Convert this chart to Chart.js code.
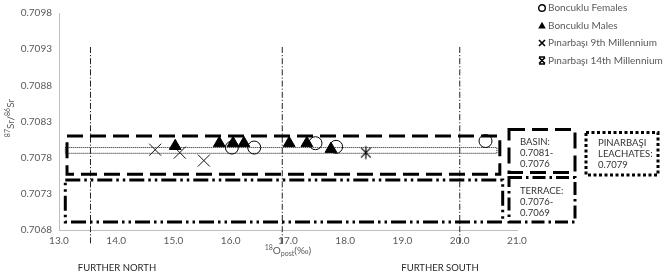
<!DOCTYPE html>
<html>
<head>
<meta charset="utf-8">
<script src="https://cdn.jsdelivr.net/npm/chart.js@4.4.1/dist/chart.umd.min.js"></script>
<style>
html,body{margin:0;padding:0;background:#fff;}
#wrap{position:relative;width:668px;height:275px;}
</style>
</head>
<body>
<div id="wrap"><canvas id="c" width="668" height="275"></canvas></div>
<script>
// ---- data ----
const xTicks = [13, 14, 15, 16, 17, 18, 19, 20, 21];
const yTicks = [0.7068, 0.7073, 0.7078, 0.7083, 0.7088, 0.7093, 0.7098];

const femalesX = [16.02, 16.41, 17.48, 17.84, 20.45];
const femalesY = [0.70794, 0.70794, 0.70800, 0.70795, 0.70803];

const malesX = [15.03, 15.80, 16.04, 16.23, 17.02, 17.33, 17.75];
const malesY = [0.70796, 0.70800, 0.70800, 0.70800, 0.70800, 0.70800, 0.70792];

const pin9X = [14.68, 15.11, 15.53];
const pin9Y = [0.70791, 0.70787, 0.70776];

const pin14X = [18.36];
const pin14Y = [0.70787];

const basinX = [13.14, 20.70, 20.70, 13.14, 13.14];
const basinY = [0.70810, 0.70810, 0.70757, 0.70757, 0.70810];

const terraceX = [13.11, 20.75, 20.75, 13.11, 13.11];
const terraceY = [0.70749, 0.70749, 0.70691, 0.70691, 0.70749];

const leachX = [13.11, 20.65, 20.65, 13.11, 13.11];
const leachY = [0.70794, 0.70794, 0.70786, 0.70786, 0.70794];

const vlineX = [13.55, 16.90, 20.00];
const vlineRange = [0.70933, 0.70660];

const legendLabels = ['Boncuklu Females', 'Boncuklu Males', 'Pınarbaşı 9th Millennium', 'Pınarbaşı 14th Millennium'];

// ---- helpers ----
const pts = (xs, ys) => xs.map((x, i) => ({x: x, y: ys[i]}));
const FONT = 'Lato, "Open Sans", sans-serif';

function starImg(size, lw) {
  const c = document.createElement('canvas');
  c.width = size; c.height = size;
  const g = c.getContext('2d');
  const h = size / 2, r = size / 2 - 1.5;
  g.strokeStyle = '#000'; g.lineWidth = lw;
  g.beginPath();
  g.moveTo(h - r * 0.75, h - r * 0.75); g.lineTo(h + r * 0.75, h + r * 0.75);
  g.moveTo(h + r * 0.75, h - r * 0.75); g.lineTo(h - r * 0.75, h + r * 0.75);
  g.moveTo(h, h - r); g.lineTo(h, h + r);
  g.stroke();
  return c;
}
const star14 = starImg(16, 1.2);

const datasets = [
  {label: legendLabels[0], data: pts(femalesX, femalesY), pointStyle: 'circle', pointRadius: 6.5,
   borderColor: '#000', backgroundColor: 'rgba(0,0,0,0)', borderWidth: 1, showLine: false},
  {label: legendLabels[1], data: pts(malesX, malesY), pointStyle: 'triangle', pointRadius: 6.8,
   borderColor: '#000', backgroundColor: '#000', borderWidth: 1, showLine: false},
  {label: legendLabels[2], data: pts(pin9X, pin9Y), pointStyle: 'crossRot', pointRadius: 8.5,
   borderColor: '#111', backgroundColor: '#111', borderWidth: 1, showLine: false},
  {label: legendLabels[3], data: pts(pin14X, pin14Y), pointStyle: star14, pointRadius: 8,
   borderColor: '#000', borderWidth: 1, showLine: false},
  {label: 'leach', data: pts(leachX, leachY), showLine: true, pointRadius: 0, borderColor: '#111',
   borderWidth: 1, borderDash: [1, 1], fill: false, tension: 0},
  {label: 'basin', data: pts(basinX, basinY), showLine: true, pointRadius: 0, borderColor: '#000',
   borderWidth: 3, borderDash: [16, 7], fill: false, tension: 0},
  {label: 'terrace', data: pts(terraceX, terraceY), showLine: true, pointRadius: 0, borderColor: '#000',
   borderWidth: 3, borderDash: [15, 4, 2.5, 4, 2.5, 4], fill: false, tension: 0}
];
vlineX.forEach((vx, i) => {
  datasets.push({label: 'v' + i, data: [{x: vx, y: vlineRange[0]}, {x: vx, y: vlineRange[1]}],
    showLine: true, pointRadius: 0, borderColor: '#222', borderWidth: 1,
    borderDash: [6, 2, 1.2, 2], clip: false, fill: false});
});

// ---- overlay plugin: legend, titles, text boxes ----
function drawSupText(ctx, parts, x, y, align) {
  let w = 0;
  parts.forEach(p => { ctx.font = p.size + 'px ' + FONT; p.w = ctx.measureText(p.t).width; w += p.w; });
  let cx = align === 'center' ? x - w / 2 : x;
  parts.forEach(p => {
    ctx.font = p.size + 'px ' + FONT;
    ctx.textAlign = 'left';
    ctx.fillText(p.t, cx, y + (p.dy || 0));
    cx += p.w;
  });
}

const overlay = {
  id: 'overlay',
  afterDraw(chart) {
    const ctx = chart.ctx;
    ctx.save();
    // legend
    const lx = 542, ly = [8, 25.5, 43, 60.5];
    ctx.strokeStyle = '#000'; ctx.fillStyle = '#000';
    ctx.lineWidth = 1.4; ctx.beginPath(); ctx.arc(lx, ly[0], 3.3, 0, Math.PI * 2); ctx.stroke();
    ctx.beginPath(); ctx.moveTo(lx, ly[1] - 3.8); ctx.lineTo(lx + 3.8, ly[1] + 3); ctx.lineTo(lx - 3.8, ly[1] + 3); ctx.closePath(); ctx.fill();
    ctx.lineWidth = 1.6; ctx.beginPath();
    ctx.moveTo(lx - 3, ly[2] - 3); ctx.lineTo(lx + 3, ly[2] + 3); ctx.moveTo(lx + 3, ly[2] - 3); ctx.lineTo(lx - 3, ly[2] + 3); ctx.stroke();
    ctx.beginPath();
    ctx.moveTo(lx - 3, ly[3] - 3); ctx.lineTo(lx + 3, ly[3] + 3); ctx.moveTo(lx + 3, ly[3] - 3); ctx.lineTo(lx - 3, ly[3] + 3);
    ctx.moveTo(lx - 3, ly[3] - 3.5); ctx.lineTo(lx + 3, ly[3] - 3.5); ctx.moveTo(lx - 3, ly[3] + 3.5); ctx.lineTo(lx + 3, ly[3] + 3.5);
    ctx.stroke();
    ctx.fillStyle = '#595959'; ctx.font = '10px ' + FONT; ctx.textAlign = 'left'; ctx.textBaseline = 'middle';
    legendLabels.forEach((t, i) => ctx.fillText(t, lx + 6, ly[i]));

    // y title
    ctx.save();
    ctx.translate(11, 118); ctx.rotate(-Math.PI / 2);
    ctx.fillStyle = '#595959'; ctx.textBaseline = 'middle';
    drawSupText(ctx, [{t: '87', size: 7, dy: -3}, {t: 'Sr/', size: 10}, {t: '86', size: 7, dy: -3}, {t: 'Sr', size: 10}], 0, 0, 'center');
    ctx.restore();

    // x title
    ctx.fillStyle = '#595959'; ctx.textBaseline = 'middle';
    drawSupText(ctx, [{t: '18', size: 7, dy: -3}, {t: 'O', size: 10}, {t: 'post', size: 7, dy: 3}, {t: '(‰)', size: 10}], 288, 251, 'center');

    // further north / south
    ctx.fillStyle = '#262626'; ctx.font = '9.5px ' + FONT; ctx.textAlign = 'center'; ctx.textBaseline = 'middle';
    ctx.fillText('FURTHER NORTH', 117, 268);
    ctx.fillText('FURTHER SOUTH', 440, 268);

    // text boxes
    ctx.strokeStyle = '#000'; ctx.lineWidth = 3;
    ctx.setLineDash([16, 7]); ctx.strokeRect(509, 129.5, 66, 43);
    ctx.setLineDash([13, 4, 2.5, 4]); ctx.strokeRect(509, 177.5, 66, 44.5);
    ctx.setLineDash([3, 2.5]); ctx.strokeRect(586, 132.5, 72, 42.5);
    ctx.setLineDash([]);
    ctx.fillStyle = '#333'; ctx.font = '9.5px ' + FONT; ctx.textAlign = 'left'; ctx.textBaseline = 'middle';
    ['BASIN:', '0.7081-', '0.7076'].forEach((t, i) => ctx.fillText(t, 520, 142 + i * 11));
    ['TERRACE:', '0.7076-', '0.7069'].forEach((t, i) => ctx.fillText(t, 520, 191 + i * 11));
    ['PINARBAŞI', 'LEACHATES:', '0.7079'].forEach((t, i) => ctx.fillText(t, 598, 143 + i * 11));
    ctx.restore();
  }
};

new Chart(document.getElementById('c'), {
  type: 'scatter',
  data: {datasets: datasets},
  options: {
    responsive: false,
    animation: false,
    events: [],
    layout: {padding: {left: 0, right: 151, top: 5, bottom: 0}},
    plugins: {legend: {display: false}, tooltip: {enabled: false}},
    scales: {
      x: {
        type: 'linear', min: 13, max: 21,
        afterBuildTicks: s => { s.ticks = xTicks.map(v => ({value: v})); },
        afterFit: s => { s.height = 45; },
        grid: {display: false, drawTicks: false},
        border: {display: true, color: '#bfbfbf', width: 1},
        ticks: {color: '#595959', font: {family: FONT, size: 10}, padding: 5,
                callback: v => Number(v).toFixed(1), maxRotation: 0, autoSkip: false}
      },
      y: {
        type: 'linear', min: 0.7068, max: 0.7098,
        afterBuildTicks: s => { s.ticks = yTicks.map(v => ({value: v})); },
        afterFit: s => { s.width = 59; },
        grid: {display: false, drawTicks: false},
        border: {display: true, color: '#bfbfbf', width: 1},
        ticks: {color: '#595959', font: {family: FONT, size: 10}, padding: 7,
                callback: v => Number(v).toFixed(4), autoSkip: false}
      }
    }
  },
  plugins: [overlay]
});
</script>
</body>
</html>
